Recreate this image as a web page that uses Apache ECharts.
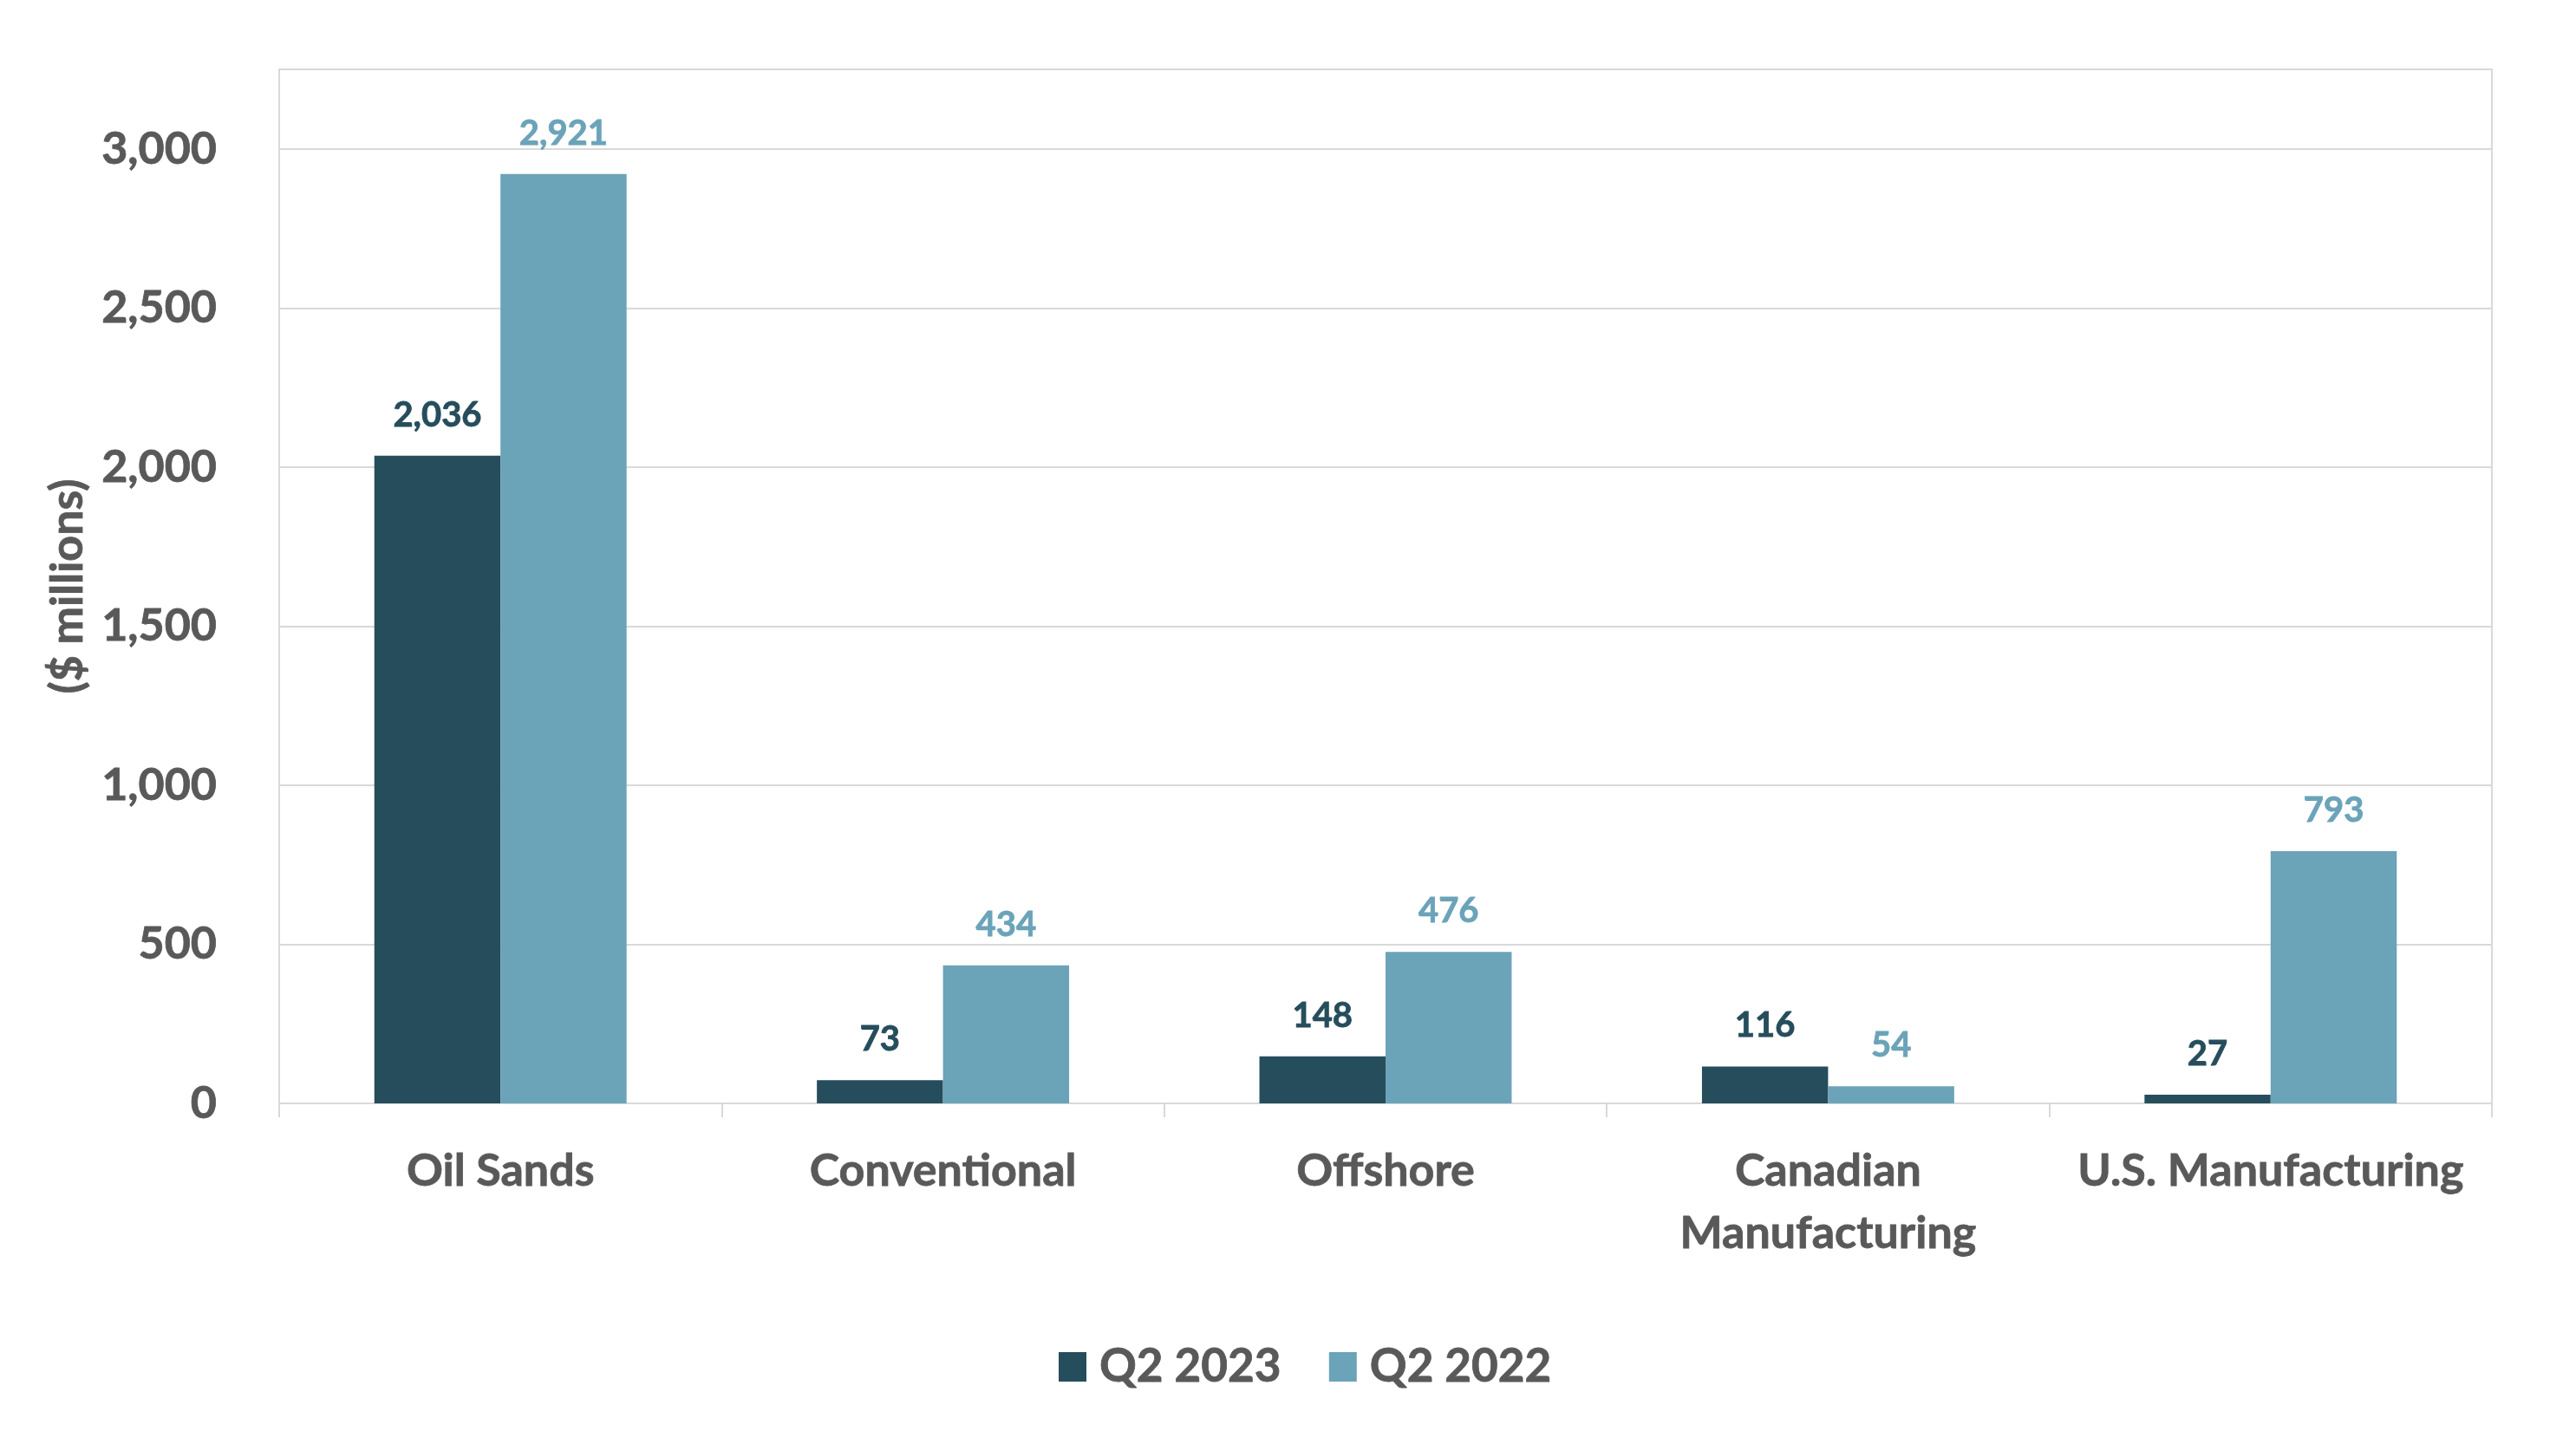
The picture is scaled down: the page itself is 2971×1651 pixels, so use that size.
<!DOCTYPE html>
<html>
<head>
<meta charset="utf-8">
<script src="https://cdn.jsdelivr.net/npm/echarts@6/dist/echarts.min.js"></script>
<style>
html,body{margin:0;padding:0;background:#fff;}
#chart{width:2971px;height:1651px;}
</style>
</head>
<body>
<div id="chart"></div>
<script>
const categories = ['Oil Sands', 'Conventional', 'Offshore', 'Canadian\nManufacturing', 'U.S. Manufacturing'];
const seriesNames = ['Q2 2023', 'Q2 2022'];
const q2_2023 = [2036, 73, 148, 116, 27];
const q2_2022 = [2921, 434, 476, 54, 793];
const yTicks = { min: 0, max: 3250, interval: 500 };

const FONT = 'Lato';
const DARK = '#264D5C';
const LIGHT = '#6BA3B9';
const GRAY = '#595959';

const chart = echarts.init(document.getElementById('chart'));
chart.setOption({
  backgroundColor: '#fff',
  animation: false,
  grid: { left: 322, right: 97, top: 80, bottom: 378, show: true, borderColor: '#D9D9D9', borderWidth: 2 },
  legend: {
    data: seriesNames,
    left: 1216,
    top: 1545,
    icon: 'rect',
    itemWidth: 32,
    itemHeight: 34,
    itemGap: 55,
    textStyle: { fontFamily: FONT, fontWeight: 'bold', fontSize: 53, color: GRAY, padding: [0, 0, 0, 10],
      textBorderColor: GRAY, textBorderWidth: 0.8 }
  },
  xAxis: {
    type: 'category',
    data: categories,
    axisLine: { lineStyle: { color: '#D9D9D9', width: 2 } },
    axisTick: { show: true, length: 16, lineStyle: { color: '#D9D9D9', width: 2 } },
    axisLabel: { fontFamily: FONT, fontWeight: 'bold', fontSize: 52, color: GRAY, margin: 42, lineHeight: 72, interval: 0,
      textBorderColor: GRAY, textBorderWidth: 0.8 }
  },
  yAxis: {
    type: 'value',
    min: yTicks.min, max: yTicks.max, interval: yTicks.interval,
    name: '($ millions)',
    nameLocation: 'middle',
    nameRotate: 90,
    nameGap: 218,
    nameTextStyle: { fontFamily: FONT, fontWeight: 'bold', fontSize: 52, color: GRAY, textBorderColor: GRAY, textBorderWidth: 0.8 },
    axisLine: { show: false },
    axisTick: { show: false },
    splitLine: { lineStyle: { color: '#D9D9D9', width: 2 } },
    axisLabel: {
      fontFamily: FONT, fontWeight: 'bold', fontSize: 52, color: GRAY, margin: 72,
      textBorderColor: GRAY, textBorderWidth: 0.8,
      showMaxLabel: false,
      formatter: v => v.toLocaleString('en-US')
    }
  },
  series: [
    {
      name: seriesNames[0], type: 'bar', data: q2_2023,
      barGap: '0%', barCategoryGap: '43%',
      itemStyle: { color: DARK },
      label: { show: true, position: 'top', distance: 27, fontFamily: FONT, fontWeight: 'bold', fontSize: 40, color: DARK,
        textBorderColor: DARK, textBorderWidth: 0.8,
        formatter: p => p.value.toLocaleString('en-US') }
    },
    {
      name: seriesNames[1], type: 'bar', data: q2_2022,
      itemStyle: { color: LIGHT },
      label: { show: true, position: 'top', distance: 27, fontFamily: FONT, fontWeight: 'bold', fontSize: 40, color: LIGHT,
        textBorderColor: LIGHT, textBorderWidth: 0.8,
        formatter: p => p.value.toLocaleString('en-US') }
    }
  ]
});
</script>
</body>
</html>
